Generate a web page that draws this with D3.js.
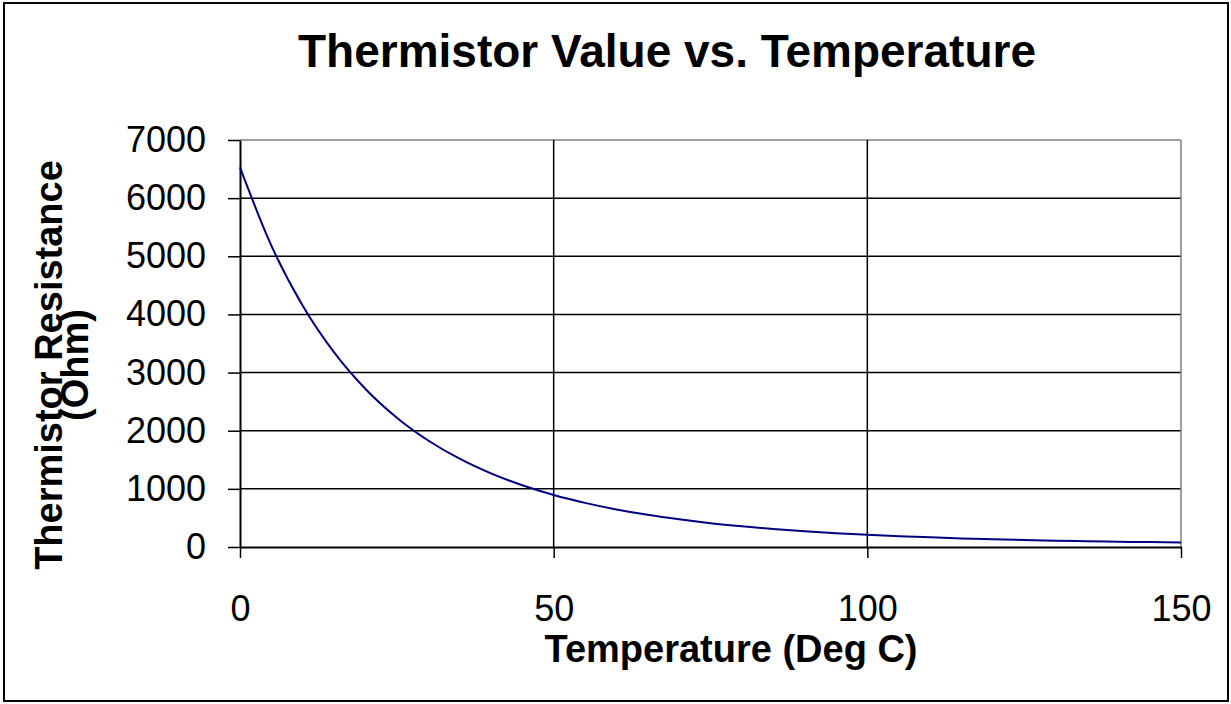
<!DOCTYPE html>
<html>
<head>
<meta charset="utf-8">
<script src="https://cdn.jsdelivr.net/npm/d3@7"></script>
<style>
  body { margin: 0; background: #fff; }
  text { font-family: Arial, "Liberation Sans", sans-serif; fill: #000; }
</style>
</head>
<body>
<div id="chart"></div>
<script>
// DATA ===========================================================================================
const temps = [0, 5, 10, 15, 20, 25, 30, 35, 40, 45, 50, 55, 60, 65, 70, 75,
  80, 85, 90, 95, 100, 105, 110, 115, 120, 125, 130, 135, 140, 145, 150]
const resistance = [6530, 5183, 4148, 3346, 2718, 2224, 1832, 1518, 1266, 1062, 895, 759, 646, 553, 476, 410,
  356, 310, 271, 237, 209, 186, 166, 148, 133, 120, 109, 99, 91, 84, 78]
const xTicks = [0, 50, 100, 150]
const yTicks = [0, 1000, 2000, 3000, 4000, 5000, 6000, 7000]

// SET UP =========================================================================================
const width = 1231
const height = 704
const plot = {left: 240, right: 1181, top: 140, bottom: 547}

const data = temps.map((t, i) => ({t: t, r: resistance[i]}))

const svg = d3.select('#chart')
  .append('svg')
  .attr('width', width)
  .attr('height', height)

// outer frame
svg.append('rect')
  .attr('x', 4).attr('y', 3)
  .attr('width', 1224).attr('height', 698)
  .attr('fill', 'none')
  .attr('stroke', '#000')
  .attr('stroke-width', 2)

// SCALES AND AXES ================================================================================
const x = d3.scaleLinear()
  .domain([0, 150])
  .range([plot.left, plot.right])

const y = d3.scaleLinear()
  .domain([0, 7000])
  .range([plot.bottom, plot.top])

// horizontal gridlines
svg.append('g')
  .selectAll('line')
  .data(yTicks.filter(d => d > 0))
  .join('line')
  .attr('x1', plot.left).attr('x2', plot.right)
  .attr('y1', d => y(d)).attr('y2', d => y(d))
  .attr('stroke', d => d === 7000 ? '#808080' : '#000')
  .attr('stroke-width', 1.5)

// vertical gridlines
svg.append('g')
  .selectAll('line')
  .data(xTicks.filter(d => d > 0))
  .join('line')
  .attr('x1', d => x(d)).attr('x2', d => x(d))
  .attr('y1', plot.top).attr('y2', plot.bottom)
  .attr('stroke', d => d === 150 ? '#808080' : '#000')
  .attr('stroke-width', 1.5)

const xAxis = svg.append('g')
  .attr('transform', `translate(0, ${plot.bottom})`)
  .call(d3.axisBottom(x).tickValues(xTicks).tickFormat(d3.format('d'))
    .tickSize(11).tickSizeOuter(0).tickPadding(37))
xAxis.select('.domain').attr('stroke-width', 2)
xAxis.selectAll('.tick line').attr('stroke-width', 1.5)
xAxis.selectAll('.tick text')
  .attr('font-size', 36)
  .attr('font-family', 'Arial, "Liberation Sans", sans-serif')
  .attr('fill', '#000')

const yAxis = svg.append('g')
  .attr('transform', `translate(${plot.left}, 0)`)
  .call(d3.axisLeft(y).tickValues(yTicks).tickFormat(d3.format('d'))
    .tickSize(12).tickSizeOuter(0).tickPadding(22))
yAxis.select('.domain').attr('stroke-width', 2)
yAxis.selectAll('.tick line').attr('stroke-width', 1.5)
yAxis.selectAll('.tick text')
  .attr('font-size', 36)
  .attr('font-family', 'Arial, "Liberation Sans", sans-serif')
  .attr('fill', '#000')

// MARKS ==========================================================================================
svg.append('path')
  .datum(data)
  .attr('fill', 'none')
  .attr('stroke', '#000080')
  .attr('stroke-width', 2)
  .attr('d', d3.line()
    .x(d => x(d.t))
    .y(d => y(d.r))
    .curve(d3.curveMonotoneX)
  )

// TITLES =========================================================================================
svg.append('text')
  .attr('x', 667).attr('y', 67)
  .attr('text-anchor', 'middle')
  .attr('font-size', 46)
  .attr('font-weight', 'bold')
  .text('Thermistor Value vs. Temperature')

svg.append('text')
  .attr('x', 731).attr('y', 662)
  .attr('text-anchor', 'middle')
  .attr('font-size', 38)
  .attr('font-weight', 'bold')
  .text('Temperature (Deg C)')

const yTitle = svg.append('text')
  .attr('transform', 'translate(62, 365) rotate(-90)')
  .attr('text-anchor', 'middle')
  .attr('font-size', 38)
  .attr('font-weight', 'bold')
yTitle.append('tspan').attr('x', 0).attr('dy', 0).text('Thermistor Resistance')
yTitle.append('tspan').attr('x', 0).attr('dy', 26).text('(Ohm)')
</script>
</body>
</html>
